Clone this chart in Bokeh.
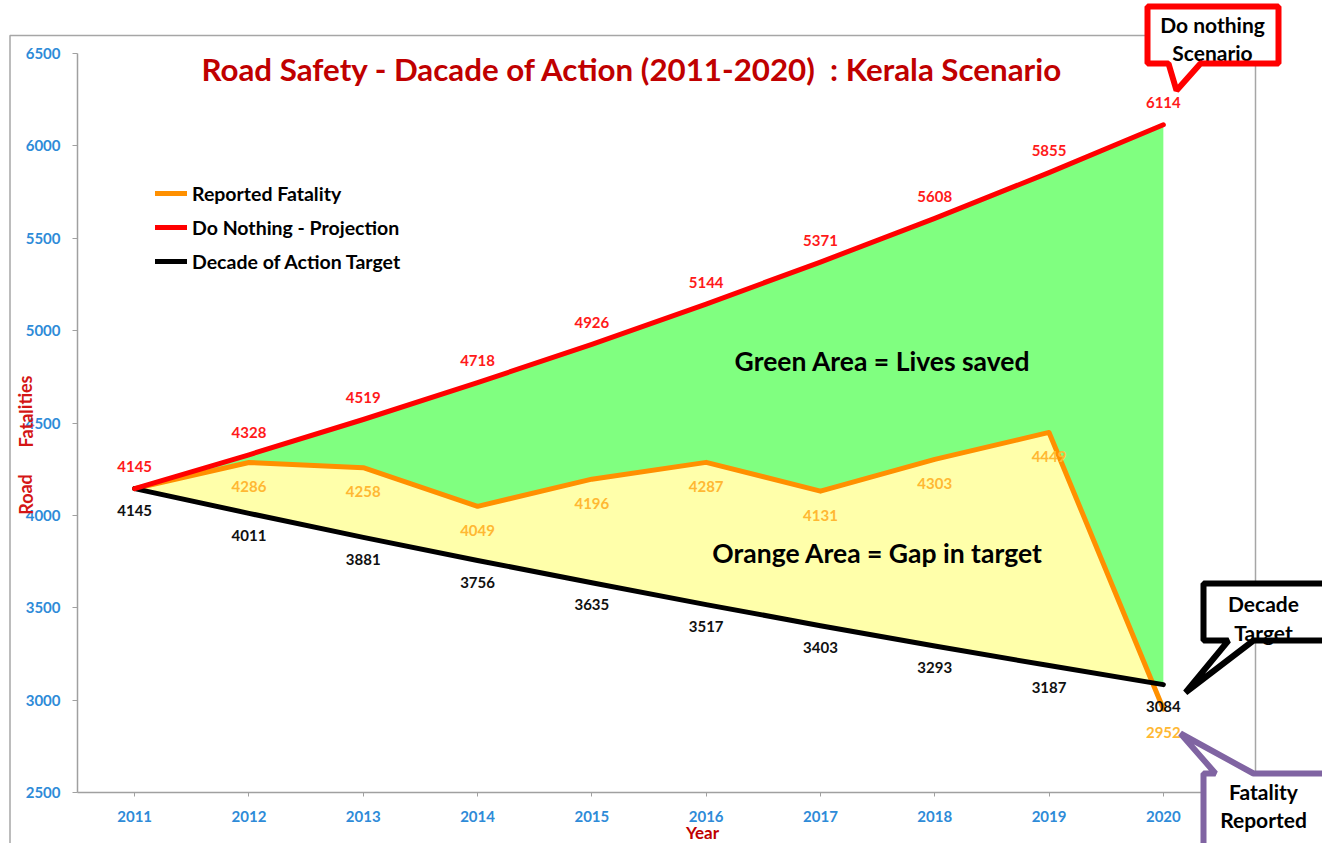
from bokeh.plotting import figure
from bokeh.models import (Range1d, FixedTicker, Label, PolyAnnotation, BoxAnnotation,
                          Legend, LegendItem)
from bokeh.core.properties import value
from bokeh.embed import file_html
from bokeh.resources import INLINE

# ---------------- data ----------------
years = [2011, 2012, 2013, 2014, 2015, 2016, 2017, 2018, 2019, 2020]
reported = [4145, 4286, 4258, 4049, 4196, 4287, 4131, 4303, 4449, 2952]
do_nothing = [4145, 4328, 4519, 4718, 4926, 5144, 5371, 5608, 5855, 6114]
target = [4145, 4011, 3881, 3756, 3635, 3517, 3403, 3293, 3187, 3084]
y_ticks = [2500, 3000, 3500, 4000, 4500, 5000, 5500, 6000, 6500]
series_names = ["Reported Fatality", "Do Nothing - Projection", "Decade of Action Target"]
title_text = "Road Safety - Dacade of Action (2011-2020) \u00a0: Kerala Scenario"

# ---------------- layout (canvas px) ----------------
W, H = 1322, 843
PL, PT, PR, PB = 77, 53, 1220, 792          # where the plotting area sits
X0, X1 = years[0] - 0.5, years[-1] + 0.5    # axis extent
Y0, Y1 = y_ticks[0], y_ticks[-1]
KX = (X1 - X0) / (PR - PL)
KY = (Y1 - Y0) / (PB - PT)


def dx(sx):
    return X0 + (sx - PL) * KX


def dy(sy):
    return Y1 - (sy - PT) * KY


FONT = "Lato"
RED, ORANGE, BLACK = "#FF0000", "#FF9000", "#000000"
GREEN_FILL, YELLOW_FILL = "#80FF80", "#FFFFAA"
TICK_BLUE = "#2E8BD8"
DARK_RED = "#C00000"

# frame covers the whole canvas so that nothing drawn in the margins gets clipped
p = figure(width=W, height=H, output_backend="svg", toolbar_location=None,
           x_range=Range1d(dx(0), dx(W)), y_range=Range1d(dy(H), dy(0)),
           min_border=0, min_border_left=0, min_border_right=0,
           min_border_top=0, min_border_bottom=0)
p.outline_line_color = None
p.grid.visible = False
p.background_fill_color = "white"
p.border_fill_color = "white"

# axes, pinned at the plotting-area edges
p.xaxis.fixed_location = Y0
p.yaxis.fixed_location = X0
p.xaxis.bounds = (X0, X1)
p.yaxis.bounds = (Y0, Y1)
p.yaxis.ticker = FixedTicker(ticks=y_ticks)
p.xaxis.ticker = FixedTicker(ticks=years)
p.xaxis.major_label_overrides = {y: str(y) for y in years}
for ax in (p.xaxis, p.yaxis):
    ax.axis_line_color = "#A0A0A0"
    ax.axis_line_width = 1.5
    ax.major_tick_line_color = "#A0A0A0"
    ax.major_tick_in = 0
    ax.minor_tick_out = 0
    ax.minor_tick_in = 0
    ax.major_label_text_font = FONT
    ax.major_label_text_font_style = "bold"
    ax.major_label_text_font_size = "15px"
    ax.major_label_text_color = TICK_BLUE
p.yaxis.major_tick_out = 5
p.yaxis.major_label_standoff = 12
p.xaxis.major_tick_out = 4
p.xaxis.major_label_standoff = 14

# areas (stacked the way the original spreadsheet draws them)
p.varea(x=years, y1=Y0, y2=do_nothing, fill_color=GREEN_FILL)
p.varea(x=years, y1=Y0, y2=reported, fill_color=YELLOW_FILL)
p.patch(x=years + [years[-1], years[0]], y=target + [Y0, Y0], fill_color="white",
        line_color="white", line_width=2)

# lines
r_rep = p.line(years, reported, line_color=ORANGE, line_width=5, line_join="round", line_cap="round")
r_tgt = p.line(years, target, line_color=BLACK, line_width=5, line_join="round", line_cap="round")
r_dn = p.line(years, do_nothing, line_color=RED, line_width=5, line_join="round", line_cap="round")

# data labels
lab_kw = dict(text_font=value(FONT), text_font_style="bold", text_font_size="15px",
              text_align="center", text_baseline="middle")
p.text(x=years, y=do_nothing, text=[str(v) for v in do_nothing], text_color="#FF1A1A", y_offset=-22, **lab_kw)
p.text(x=years[1:], y=reported[1:], text=[str(v) for v in reported[1:]], text_color="#FFB833", y_offset=24, **lab_kw)
p.text(x=years, y=target, text=[str(v) for v in target], text_color="#111111", y_offset=22, **lab_kw)

# chart-area border
p.add_layout(BoxAnnotation(left=dx(9.5), right=dx(1255), top=dy(35), bottom=dy(900),
                           fill_alpha=0, line_color="#A6A6A6", line_alpha=1, line_width=1.5))

# legend
legend = Legend(items=[LegendItem(label=series_names[0], renderers=[r_rep]),
                       LegendItem(label=series_names[1], renderers=[r_dn]),
                       LegendItem(label=series_names[2], renderers=[r_tgt])],
                location=(155, H - 273), orientation="vertical",
                border_line_color=None, background_fill_alpha=0, padding=0, margin=0,
                spacing=10, glyph_width=32, glyph_height=24, label_height=24,
                label_standoff=5, label_text_font=FONT, label_text_font_style="bold",
                label_text_font_size="19.5px", label_text_color="black")
p.add_layout(legend)

# title
p.add_layout(Label(x=dx(632), y=dy(68), text=title_text, text_font=FONT, text_font_style="bold",
                   text_font_size="31.3px", text_color=DARK_RED, text_align="center",
                   text_baseline="middle"))

# axis titles
for txt, sy in (("Road", 494), ("Fatalities", 411)):
    p.add_layout(Label(x=dx(25), y=dy(sy), text=txt, angle=1.5708, text_font=FONT,
                       text_font_style="bold", text_font_size="18px", text_color="#D41515",
                       text_align="center", text_baseline="middle"))
p.add_layout(Label(x=dx(702), y=dy(832), text="Year", text_font=FONT, text_font_style="bold",
                   text_font_size="17px", text_color=DARK_RED, text_align="center",
                   text_baseline="middle"))

# area annotations
for txt, sx, sy in (("Green Area = Lives saved", 882, 360), ("Orange Area = Gap in target", 877, 552)):
    p.add_layout(Label(x=dx(sx), y=dy(sy), text=txt, text_font=FONT, text_font_style="bold",
                       text_font_size="26.5px", text_color="black", text_align="center",
                       text_baseline="middle"))


# callouts
def callout(pts, color, lines):
    xs = [dx(a) for a, b in pts]
    ys = [dy(b) for a, b in pts]
    p.add_layout(PolyAnnotation(xs=xs, ys=ys, fill_color="white", fill_alpha=1,
                                line_alpha=0))
    for txt, sx, sy in lines:
        p.add_layout(Label(x=dx(sx), y=dy(sy), text=txt, text_font=FONT, text_font_style="bold",
                           text_font_size="21px", text_color="black", text_align="center",
                           text_baseline="middle"))
    p.add_layout(PolyAnnotation(xs=xs, ys=ys, fill_alpha=0, line_color=color, line_alpha=1,
                                line_width=6, line_join="bevel"))


callout([(1147, 6), (1278, 6), (1278, 63), (1200, 63), (1176, 90), (1168, 63), (1147, 63)],
        "#FF0000", [("Do nothing", 1212, 24), ("Scenario", 1212, 52)])
callout([(1203, 583), (1340, 583), (1340, 640), (1253, 640), (1185, 692), (1228, 640), (1203, 640)],
        "#000000", [("Decade", 1263, 603), ("Target", 1263, 632)])
callout([(1203, 773), (1215, 773), (1180, 733), (1253, 773), (1340, 773), (1340, 900), (1203, 900)],
        "#8064A2", [("Fatality", 1263, 791), ("Reported", 1263, 819)])

open("out.html", "w").write(file_html(p, INLINE))
